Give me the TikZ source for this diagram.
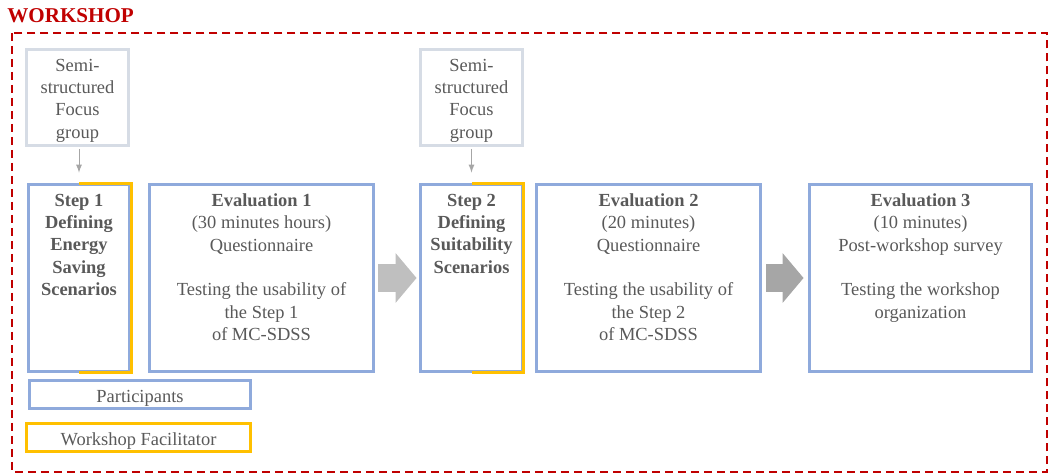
\documentclass[tikz,border=0pt]{standalone}
\usepackage{fontspec}
\setmainfont{Liberation Serif}
\usepackage{tikz}
\usetikzlibrary{arrows, arrows.meta}
\tikzset{>=latex}
\newcommand{\boxfont}{\fontsize{10.5pt}{12.7pt}\selectfont}
\definecolor{myred}{RGB}{192, 0, 0}
\definecolor{myblue}{RGB}{143, 170, 220}
\definecolor{myorange}{RGB}{255, 192, 0}
\definecolor{mygray1}{RGB}{214, 220, 229}
\definecolor{mygray2}{RGB}{191, 191, 191}
\definecolor{mygray3}{RGB}{166, 166, 166}
\definecolor{mytext}{RGB}{89, 89, 89}

\begin{document}
\begin{tikzpicture}[x = 0.02cm, y = -0.02cm,
  box/.style = {draw = myblue, line width = 0.06cm, minimum width = 4.48cm, minimum height = 3.74cm, inner sep = 0, text = mytext, font = \boxfont},
  stepbox/.style = {box, minimum width = 2.04cm},
  linebox/.style = {box, minimum height = 0.56cm, text height = 9.5pt, text depth = 0pt},
  focusbox/.style = {box, draw = mygray1, minimum width = 2.04cm, minimum height = 1.92cm},
  boxtext/.style = {anchor = north, align = center, inner sep = 0, yshift = #1, text = mytext, font = \boxfont},
  boxtext/.default = -0.21cm,
  bigarrow/.style = {line width = 0.56cm, -{Triangle[length = 0.42cm, width = 1.0cm, line width = 0pt]}}]
\useasboundingbox (0, 0) rectangle (1054, 475);
\node[anchor = base west, inner sep = 0, text = myred, font = \fontsize{12pt}{14pt}\selectfont\bfseries] (title) at (7, 23) {WORKSHOP};
\draw[myred, line width = 0.04cm, dash pattern = on 0.16cm off 0.1cm] (12, 33) rectangle (1047, 472);

\node[focusbox] (focus1) at (77.5, 97.5) {};
\node[focusbox] (focus2) at (471.5, 97.5) {};
\node[boxtext] (focus1text) at (focus1.north) {Semi-\\structured\\Focus\\group};
\node[boxtext] (focus2text) at (focus2.north) {Semi-\\structured\\Focus\\group};

\node[stepbox] (step1) at (79, 278) {};
\node[box] (eval1) at (261.5, 278) {};
\node[stepbox] (step2) at (471.5, 278) {};
\node[box] (eval2) at (648.5, 278) {};
\node[box, minimum width = 4.46cm] (eval3) at (920.5, 278) {};
\foreach \s in {step1, step2}
  \draw[myorange, line width = 0.06cm] (\s.north) -- (\s.north east) -- (\s.south east) -- (\s.south);

\node[linebox, minimum width = 4.42cm] (part) at (140, 394.5) {Participants};
\node[linebox, draw = myorange] (facil) at (138.5, 437.5) {Workshop Facilitator};

\node[boxtext, font = \boxfont\bfseries] (step1text) at (step1.north) {Step 1\\Defining\\Energy\\Saving\\Scenarios};
\node[boxtext] (eval1text) at (eval1.north) {\textbf{Evaluation 1}\\(30 minutes hours)\\Questionnaire\\[12.7pt]Testing the usability of\\the Step 1\\of MC-SDSS};
\node[boxtext, font = \boxfont\bfseries] (step2text) at (step2.north) {Step 2\\Defining\\Suitability\\Scenarios};
\node[boxtext] (eval2text) at (eval2.north) {\textbf{Evaluation 2}\\(20 minutes)\\Questionnaire\\[12.7pt]Testing the usability of\\the Step 2\\of MC-SDSS};
\node[boxtext] (eval3text) at (eval3.north) {\textbf{Evaluation 3}\\(10 minutes)\\Post-workshop survey\\[12.7pt]Testing the workshop\\organization};

\draw[->, mygray3, line width = 0.02cm, shorten < = 0.04cm, shorten > = 0.21cm] (step1.north |- focus1.south) -- (step1.north);
\draw[->, mygray3, line width = 0.02cm, shorten < = 0.04cm, shorten > = 0.21cm] (step2.north |- focus2.south) -- (step2.north);
\draw[bigarrow, mygray2, shorten < = 0.07cm, shorten > = 0.05cm] (eval1.east) -- (step2.west);
\draw[bigarrow, mygray3, shorten < = 0.09cm, shorten > = 0.08cm] (eval2.east) -- (eval3.west);
\end{tikzpicture}
\end{document}
